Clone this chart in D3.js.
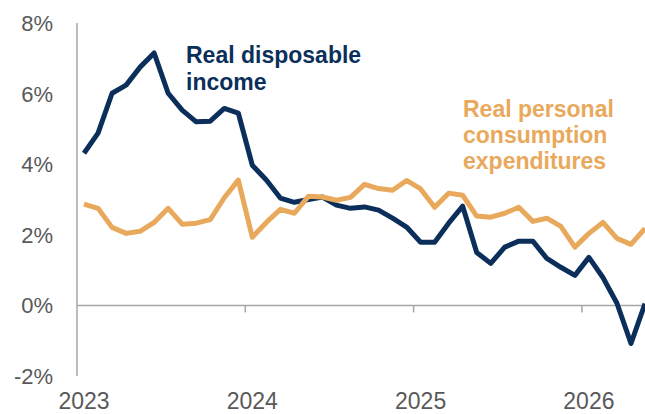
<!DOCTYPE html>
<html>
<head>
<meta charset="utf-8">
<script src="https://cdn.jsdelivr.net/npm/d3@7"></script>
<style>
  body { margin: 0; background: #fff; }
  svg { display: block; font-family: Arial, "Liberation Sans", sans-serif; }
</style>
</head>
<body>
<div id="chart"></div>
<script>
const width = 645
const height = 414

// monthly, Jan 2023 .. May 2026 (year-over-year % change)
const startYear = 2023
const yearTicks = [2023, 2024, 2025, 2026]
const yTicks = [-2, 0, 2, 4, 6, 8]

const income = [4.31, 4.88, 6.01, 6.24, 6.75, 7.15, 6.01, 5.53, 5.2, 5.22, 5.58, 5.45,
  3.97, 3.55, 3.04, 2.92, 3.0, 3.07, 2.84, 2.75, 2.79, 2.7, 2.47, 2.22,
  1.79, 1.79, 2.33, 2.81, 1.5, 1.19, 1.65, 1.82, 1.82, 1.33, 1.08, 0.85,
  1.36, 0.79, 0.06, -1.08, 0.05]

const pce = [2.87, 2.75, 2.21, 2.04, 2.1, 2.35, 2.75, 2.3, 2.33, 2.43, 3.05, 3.55,
  1.93, 2.35, 2.72, 2.61, 3.09, 3.07, 2.98, 3.06, 3.43, 3.31, 3.26, 3.54,
  3.3, 2.78, 3.18, 3.12, 2.53, 2.5, 2.61, 2.78, 2.38, 2.47, 2.24, 1.65,
  2.04, 2.35, 1.9, 1.73, 2.18]

const navy = '#0b2f5a'
const orange = '#e9a95c'
const axisGrey = '#a6a6a6'
const labelGrey = '#595959'

const svg = d3.select('#chart').append('svg')
  .attr('width', width)
  .attr('height', height)

// years as a continuous scale, points sit mid-month
const x = d3.scaleLinear().domain([2023, 2027]).range([77, 77 + 4 * 168.3])
const y = d3.scaleLinear().domain([-2, 8]).range([376, 23])

const monthX = i => x(startYear + (i + 0.5) / 12)

// y axis line
svg.append('line')
  .attr('x1', x(2023)).attr('x2', x(2023))
  .attr('y1', y(8)).attr('y2', y(-2))
  .attr('stroke', axisGrey).attr('stroke-width', 1.5)

// zero line with year ticks
svg.append('line')
  .attr('x1', x(2023)).attr('x2', width)
  .attr('y1', y(0)).attr('y2', y(0))
  .attr('stroke', axisGrey).attr('stroke-width', 1.5)

svg.append('g')
  .selectAll('line')
  .data(yearTicks.slice(1))
  .join('line')
  .attr('x1', d => x(d)).attr('x2', d => x(d))
  .attr('y1', y(0)).attr('y2', y(0) + 7)
  .attr('stroke', axisGrey).attr('stroke-width', 1.5)

// y labels
svg.append('g')
  .selectAll('text')
  .data(yTicks)
  .join('text')
  .attr('x', 53)
  .attr('y', d => y(d))
  .attr('dy', '0.36em')
  .attr('text-anchor', 'end')
  .attr('font-size', 22)
  .attr('fill', labelGrey)
  .text(d => d + '%')

// x labels
svg.append('g')
  .selectAll('text')
  .data(yearTicks)
  .join('text')
  .attr('x', d => x(d + 0.5 / 12))
  .attr('y', 409)
  .attr('text-anchor', 'middle')
  .attr('font-size', 23)
  .attr('fill', labelGrey)
  .text(d => d)

const line = d3.line()
  .x((d, i) => monthX(i))
  .y(d => y(d))

svg.append('path')
  .datum(income)
  .attr('d', line)
  .attr('fill', 'none')
  .attr('stroke', navy)
  .attr('stroke-width', 5)
  .attr('stroke-linejoin', 'round')

svg.append('path')
  .datum(pce)
  .attr('d', line)
  .attr('fill', 'none')
  .attr('stroke', orange)
  .attr('stroke-width', 5)
  .attr('stroke-linejoin', 'round')

// series labels
const incomeLabel = svg.append('text')
  .attr('font-size', 23).attr('font-weight', 'bold').attr('fill', navy)
incomeLabel.append('tspan').attr('x', 186).attr('y', 63).text('Real disposable')
incomeLabel.append('tspan').attr('x', 186).attr('y', 90).text('income')

const pceLabel = svg.append('text')
  .attr('font-size', 23).attr('font-weight', 'bold').attr('fill', orange)
pceLabel.append('tspan').attr('x', 463).attr('y', 117).text('Real personal')
pceLabel.append('tspan').attr('x', 463).attr('y', 143).text('consumption')
pceLabel.append('tspan').attr('x', 463).attr('y', 169).text('expenditures')
</script>
</body>
</html>
